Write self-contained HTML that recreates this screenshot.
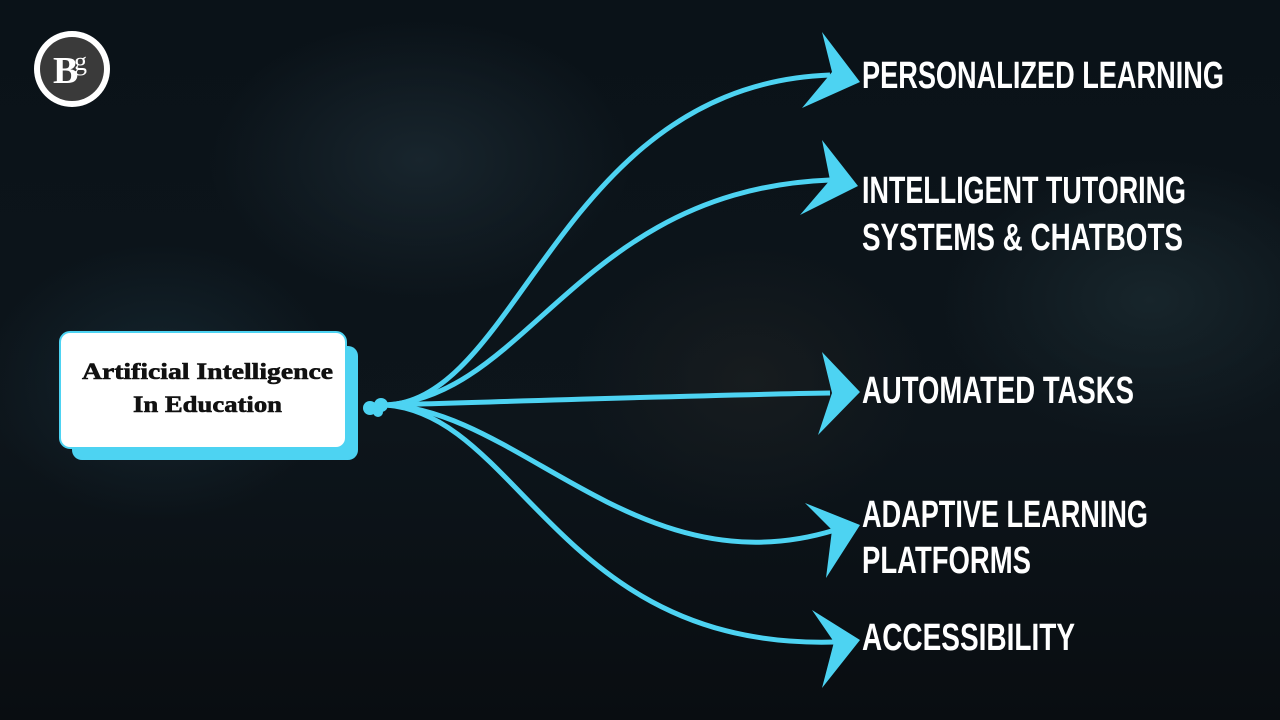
<!DOCTYPE html>
<html><head><meta charset="utf-8"><style>
html,body{margin:0;padding:0;}
body{width:1280px;height:720px;overflow:hidden;background:#0a1118;position:relative;font-family:"Liberation Sans",sans-serif;}
.bg{position:absolute;inset:0;background:
radial-gradient(ellipse 300px 200px at 420px 160px,#18252d 0%,transparent 70%),
radial-gradient(ellipse 250px 200px at 160px 380px,#14252e 0%,transparent 70%),
radial-gradient(ellipse 300px 200px at 1150px 300px,#17252b 0%,transparent 70%),
radial-gradient(ellipse 250px 200px at 750px 380px,#171c1f 0%,transparent 70%),
linear-gradient(180deg,#0a1218 0%,#0d151b 60%,#090d11 100%);}
</style></head><body>
<div class="bg"></div>
<svg width="1280" height="720" style="position:absolute;left:0;top:0">
<circle cx="72" cy="69" r="38" fill="#fff"/>
<circle cx="72" cy="69" r="32" fill="#3a3a3a"/>
<text x="53" y="83" font-family="Liberation Serif" font-weight="bold" font-size="38" fill="#fff">B</text>
<text x="74" y="70" font-family="Liberation Serif" font-size="26" fill="#fff">g</text>
<rect x="72" y="346" width="286" height="114" rx="10" fill="#4dd3f2"/>
<rect x="60" y="332" width="286" height="116" rx="10" fill="#fff" stroke="#4dd3f2" stroke-width="2"/>
<text x="82" y="379" textLength="251" lengthAdjust="spacingAndGlyphs" font-family="Liberation Serif" font-weight="bold" font-size="23" fill="#111" stroke="#111" stroke-width="0.6">Artificial Intelligence</text>
<text x="133" y="412" textLength="149" lengthAdjust="spacingAndGlyphs" font-family="Liberation Serif" font-weight="bold" font-size="23" fill="#111" stroke="#111" stroke-width="0.6">In Education</text>
<g fill="#4dd3f2"><circle cx="370" cy="408" r="7"/><circle cx="381" cy="405" r="7"/><circle cx="378" cy="412" r="5"/></g>
<g fill="none" stroke="#4dd3f2" stroke-width="5">
<path d="M386,405 C520,400 560,85 830,75"/>
<path d="M386,405 C530,395 580,190 830,180"/>
<path d="M386,405 C560,400 700,395 830,393"/>
<path d="M386,405 C520,410 640,590 835,530"/>
<path d="M386,405 C520,415 560,650 835,642"/>
</g>
<g fill="#4dd3f2">
<polygon points="860,82 822,32 832,72 802,108"/>
<polygon points="858,186 822,140 830,180 800,215"/>
<polygon points="860,392 822,352 832,393 818,435"/>
<polygon points="860,525 805,503 832,530 826,578"/>
<polygon points="860,640 812,610 834,642 822,688"/>
</g>
<g fill="#fff" font-family="Liberation Sans Narrow,Liberation Sans,sans-serif" font-weight="bold" font-size="38">
<text x="862" y="88" textLength="362" lengthAdjust="spacingAndGlyphs">PERSONALIZED LEARNING</text>
<text x="862" y="203" textLength="324" lengthAdjust="spacingAndGlyphs">INTELLIGENT TUTORING</text>
<text x="862" y="250" textLength="321" lengthAdjust="spacingAndGlyphs">SYSTEMS &amp; CHATBOTS</text>
<text x="862" y="403" textLength="272" lengthAdjust="spacingAndGlyphs">AUTOMATED TASKS</text>
<text x="862" y="527" textLength="286" lengthAdjust="spacingAndGlyphs">ADAPTIVE LEARNING</text>
<text x="862" y="573" textLength="169" lengthAdjust="spacingAndGlyphs">PLATFORMS</text>
<text x="862" y="650" textLength="213" lengthAdjust="spacingAndGlyphs">ACCESSIBILITY</text>
</g>
</svg>
</body></html>
